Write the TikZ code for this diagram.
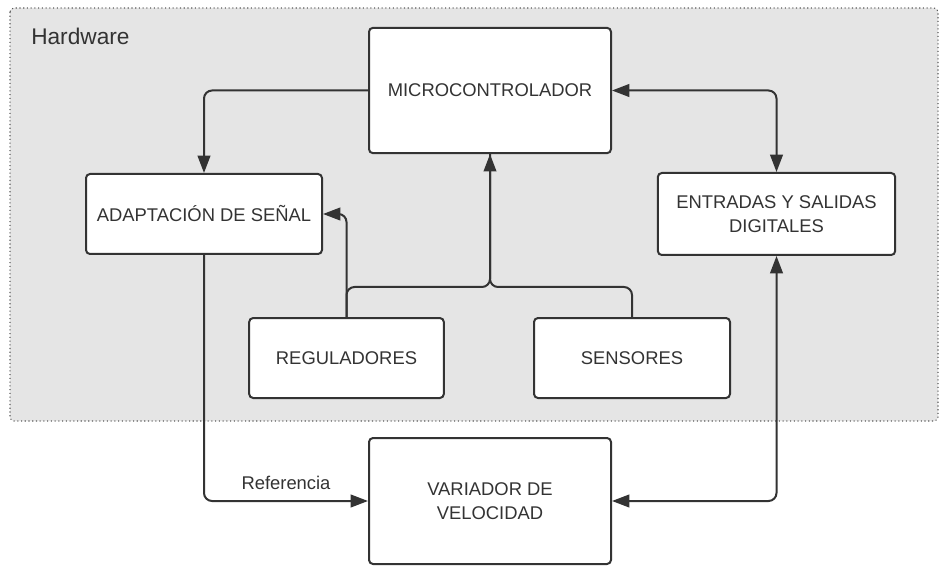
\documentclass[tikz,border=0pt]{standalone}
\usepackage{fontspec}
\setmainfont{Liberation Sans}
\usetikzlibrary{arrows.meta}
\definecolor{ink}{HTML}{333333}
\definecolor{hwgray}{HTML}{E5E5E5}

\begin{document}
\begin{tikzpicture}[x=0.75pt, y=-0.75pt, every node/.style={font=\fontsize{13.8}{18}\selectfont, text=ink},
	box/.style={draw=ink, line width=1.5pt, fill=white, rounded corners=3pt, align=center, inner sep=0pt},
	link/.style={draw=ink, line width=1.5pt, rounded corners=6pt},
	>={Triangle[length=13pt, width=9.5pt]}]
	\useasboundingbox (0,0) rectangle (948,573);
	\draw[ink!80, dotted, fill=hwgray, rounded corners=3pt, line width=0.8pt] (10,8) rectangle (938,421);
	\node[anchor=base west, font=\fontsize{17}{20}\selectfont, inner sep=0pt] (hw) at (31,45) {Hardware};
	\node[box, minimum width=181.5pt, minimum height=94pt] (micro) at (490,90.5) {MICROCONTROLADOR};
	\node[box, minimum width=177pt, minimum height=60pt] (adapt) at (204,214) {ADAPTACIÓN DE SEÑAL};
	\node[box, minimum width=178pt, minimum height=61.5pt] (io) at (776.5,214) {ENTRADAS Y SALIDAS\\DIGITALES};
	\node[box, minimum width=146pt, minimum height=60pt] (reg) at (346.5,358) {REGULADORES};
	\node[box, minimum width=147pt, minimum height=60pt] (sens) at (632,358) {SENSORES};
	\node[box, minimum width=181.5pt, minimum height=94.5pt] (var) at (490,501) {VARIADOR DE\\VELOCIDAD};
	\draw[link, ->] (micro.west) -| (adapt.north);
	\draw[link, <->] (micro.east) -| (io.north);
	\draw[link, ->] (reg.north) |- (adapt.east);
	\draw[link, ->] (reg.north) -- ++(0,-30) -| (micro.south);
	\draw[link] (sens.north) -- ++(0,-30) -| (micro.south);
	\draw[link, ->] (adapt.south) |- (var.west) node[pos=0.75, above=4.5pt] (ref) {Referencia};
	\draw[link, <->] (io.south) |- (var.east);
\end{tikzpicture}
\end{document}
